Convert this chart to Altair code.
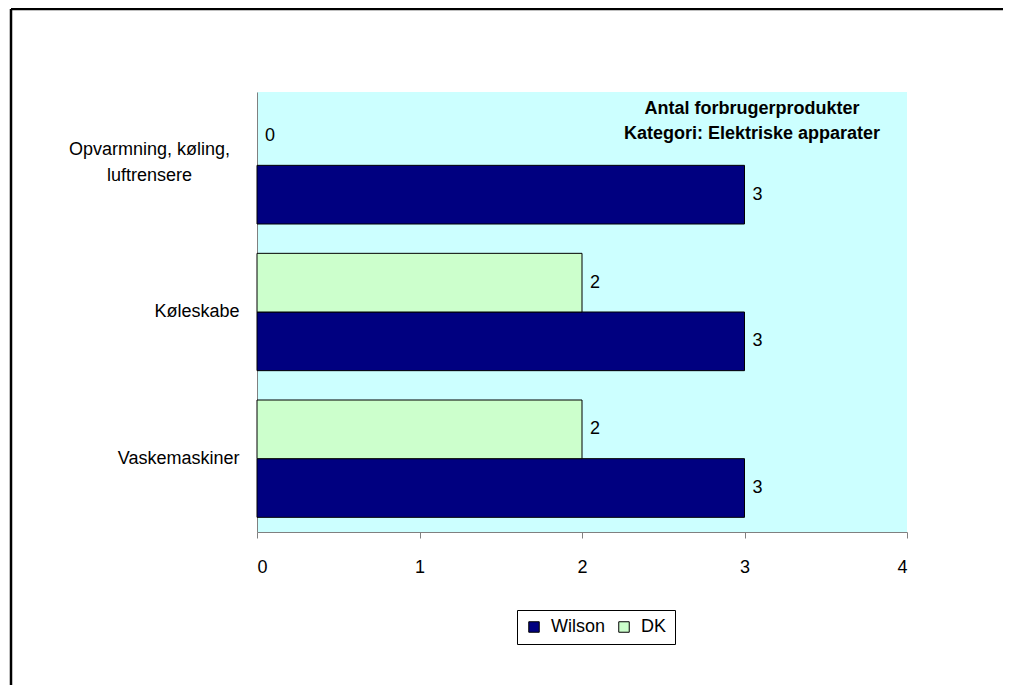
import altair as alt
import pandas as pd

categories = ["Opvarmning, køling, luftrensere", "Køleskabe", "Vaskemaskiner"]
series = ["Wilson", "DK"]
wilson_values = [3, 3, 3]
dk_values = [0, 2, 2]
title_lines = ["Antal forbrugerprodukter", "Kategori: Elektriske apparater"]
x_ticks = [0, 1, 2, 3, 4]

rows = []
for c, w, d in zip(categories, wilson_values, dk_values):
    rows.append({"Kategori": c, "Serie": "Wilson", "Antal": w})
    rows.append({"Kategori": c, "Serie": "DK", "Antal": d})
df = pd.DataFrame(rows)

FONT = "Liberation Sans"
FS = 18
W, H = 650, 440
PAD_L, PAD_T = 249, 84
PAD_R = 995 - PAD_L - W
PAD_B = 677 - PAD_T - H
LONG = "Opvarmning, køling, luftrensere"
TEST = f"datum.value == '{LONG}'"

y_enc = alt.Y(
    "Kategori:N",
    sort=categories,
    scale=alt.Scale(paddingInner=0.2, paddingOuter=0.1),
    axis=alt.Axis(
        title=None,
        ticks=False,
        domainColor="#808080",
        labelFont=FONT,
        labelFontSize=FS,
        labelColor="black",
        labelLineHeight=26,
        labelLimit=400,
        labelExpr=f"datum.label == '{LONG}' ? ['Opvarmning, køling,', 'luftrensere'] : datum.label",
        labelAlign={"condition": {"test": TEST, "value": "center"}, "value": "right"},
        labelPadding={"condition": {"test": TEST, "value": 108}, "value": 18},
        labelOffset={"condition": {"test": TEST, "value": -15}, "value": 0},
    ),
)
yoff = alt.YOffset("Serie:N", sort=["DK", "Wilson"], scale=alt.Scale(paddingInner=0, paddingOuter=0))
x_enc = alt.X(
    "Antal:Q",
    scale=alt.Scale(domain=[0, 4], nice=False),
    axis=alt.Axis(
        title=None,
        values=x_ticks,
        grid=False,
        tickSize=6,
        tickColor="#808080",
        domainColor="#808080",
        labelFont=FONT,
        labelFontSize=FS,
        labelColor="black",
        labelPadding=20,
        format="d",
    ),
)

bars = alt.Chart(df).mark_bar(stroke="black", strokeWidth=1).encode(
    y=y_enc,
    yOffset=yoff,
    x=x_enc,
    strokeOpacity=alt.condition("datum.Antal == 0", alt.value(0), alt.value(1)),
    color=alt.Color(
        "Serie:N",
        scale=alt.Scale(domain=series, range=["#000080", "#CCFFCC"]),
        legend=alt.Legend(
            title=None,
            orient="none",
            legendX=260,
            legendY=518,
            direction="horizontal",
            strokeColor="black",
            fillColor="white",
            padding=8,
            symbolType="square",
            symbolSize=110,
            symbolStrokeColor="black",
            symbolStrokeWidth=1,
            labelFont=FONT,
            labelFontSize=FS,
            labelColor="black",
            columnPadding=9,
            labelOffset=8,
        ),
    ),
)

labels = alt.Chart(df).mark_text(
    align="left", baseline="middle", dx=8, font=FONT, fontSize=FS, color="black"
).encode(
    y=alt.Y("Kategori:N", sort=categories),
    yOffset=yoff,
    x="Antal:Q",
    text="Antal:Q",
)

title = alt.Chart(pd.DataFrame({"t": [0]})).mark_text(
    align="center", baseline="top", font=FONT, fontSize=18, fontWeight="bold",
    color="black", lineHeight=25,
).encode(
    x=alt.value(495), y=alt.value(8), text=alt.value(title_lines)
)

one = pd.DataFrame({"t": [0]})
frame_top = alt.Chart(one).mark_rule(color="black", strokeWidth=2.5).encode(
    x=alt.value(11 - 257), x2=alt.value(800), y=alt.value(9 - 92)
)
frame_left = alt.Chart(one).mark_rule(color="black", strokeWidth=2.5).encode(
    x=alt.value(11 - 257), y=alt.value(9 - 92), y2=alt.value(700)
)

chart = alt.layer(bars, labels, title, frame_top, frame_left).properties(
    width=W, height=H,
    autosize=alt.AutoSizeParams(type="none"),
    padding={"left": PAD_L, "top": PAD_T, "right": PAD_R, "bottom": PAD_B},
).configure(background="white").configure_view(fill="#CCFFFF", stroke=None)

chart.save("out.html", embed_options={"renderer": "svg", "actions": False})
